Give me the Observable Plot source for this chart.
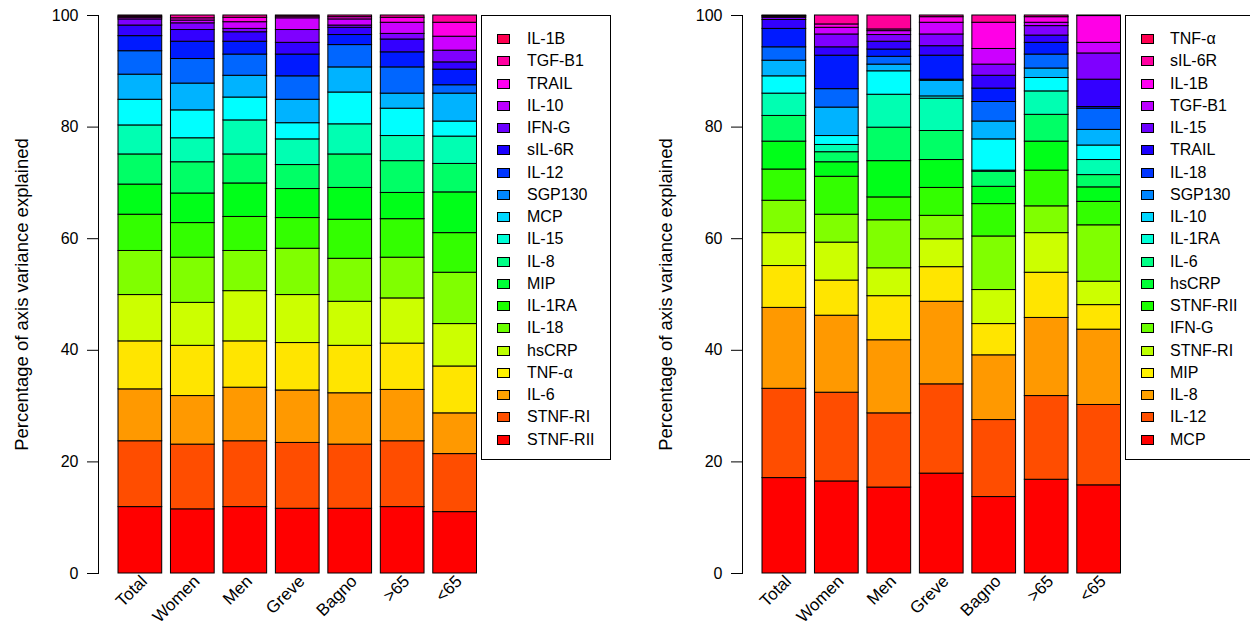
<!DOCTYPE html>
<html>
<head>
<meta charset="utf-8">
<script src="https://cdn.jsdelivr.net/npm/d3@7"></script>
<script src="https://cdn.jsdelivr.net/npm/@observablehq/plot@0.6"></script>
<style>
  html, body { margin: 0; padding: 0; background: #fff; }
  body { width: 1250px; height: 629px; overflow: hidden; position: relative; font-family: "Liberation Sans", Arial, sans-serif; }
  .panel { position: absolute; top: 0; }
  .legend { position: absolute; top: 15px; height: 445px; border: 1px solid #000; background: #fff; box-sizing: border-box; }
  .item { position: absolute; left: 0; height: 20px; font-size: 16px; line-height: 20px; color: #000; white-space: nowrap; }
  .sw { position: absolute; top: 5px; width: 13px; height: 10px; border: 1px solid #000; box-sizing: border-box; }
  .lab { position: absolute; top: 0; }
</style>
</head>
<body>
<div id="left" class="panel" style="left:0px;"></div>
<div id="right" class="panel" style="left:644px;"></div>
<div id="legL" class="legend" style="left:481px; width:130px;"></div>
<div id="legR" class="legend" style="left:1125px; width:140px;"></div>
<script>
// ---------- data ----------
const groups = ["Total", "Women", "Men", "Greve", "Bagno", ">65", "<65"];
const yTicks = [0, 20, 40, 60, 80, 100];
const yTitle = "Percentage of axis variance explained";

// left panel: stacking order bottom -> top
const leftCytokines = ["STNF-RII", "STNF-RI", "IL-6", "TNF-\u03b1", "hsCRP", "IL-18", "IL-1RA", "MIP", "IL-8", "IL-15", "MCP", "SGP130", "IL-12", "sIL-6R", "IFN-G", "IL-10", "TRAIL", "TGF-B1", "IL-1B"];
const leftTotal = [11.9, 11.8, 9.3, 8.6, 8.3, 7.9, 6.5, 5.4, 5.4, 5.2, 4.6, 4.5, 4.2, 2.7, 1.9, 1.1, 0.3, 0.2, 0.2];
const leftWomen = [11.5, 11.6, 8.7, 9.0, 7.7, 8.1, 6.2, 5.3, 5.6, 4.3, 5.0, 4.8, 4.4, 3.1, 2.1, 1.2, 0.5, 0.4, 0.5];
const leftMen   = [11.9, 11.8, 9.6, 8.3, 9.0, 7.2, 6.1, 6.0, 5.2, 6.1, 4.1, 3.9, 3.8, 2.3, 1.7, 0.6, 1.2, 0.8, 0.4];
const leftGreve = [11.6, 11.8, 9.4, 8.5, 8.6, 8.3, 5.5, 5.2, 4.3, 4.6, 2.9, 4.2, 4.2, 3.9, 2.1, 2.3, 2.1, 0.3, 0.2];
const leftBagno = [11.6, 11.5, 9.2, 8.5, 7.9, 7.7, 7.0, 5.7, 6.0, 5.4, 5.7, 4.5, 4.0, 1.8, 1.3, 0.4, 1.1, 0.4, 0.3];
const leftOver65  = [11.9, 11.8, 9.2, 8.3, 8.1, 7.3, 6.9, 4.7, 5.7, 4.5, 4.9, 2.7, 4.7, 2.7, 2.3, 1.0, 2.0, 0.9, 0.4];
const leftUnder65 = [11.0, 10.4, 7.3, 8.4, 7.6, 9.2, 7.1, 7.3, 5.1, 4.9, 2.7, 5.0, 1.5, 2.8, 1.3, 2.1, 2.5, 2.5, 1.3];

// right panel: stacking order bottom -> top
const rightCytokines = ["MCP", "IL-12", "IL-8", "MIP", "STNF-RI", "IFN-G", "STNF-RII", "hsCRP", "IL-6", "IL-1RA", "IL-10", "SGP130", "IL-18", "TRAIL", "IL-15", "TGF-B1", "IL-1B", "sIL-6R", "TNF-\u03b1"];
const rightTotal = [17.1, 16.0, 14.5, 7.5, 5.9, 5.8, 5.6, 5.0, 4.6, 4.0, 3.1, 2.8, 2.4, 3.3, 1.6, 0.4, 0.2, 0.1, 0.1];
const rightWomen = [16.5, 15.9, 13.8, 6.3, 6.8, 5.0, 6.8, 2.6, 1.8, 1.3, 1.6, 5.1, 3.3, 6.0, 1.5, 2.3, 1.2, 0.6, 1.6];
const rightMen   = [15.4, 13.3, 13.1, 7.9, 5.0, 8.6, 4.1, 6.5, 6.0, 5.9, 4.2, 1.2, 1.4, 1.3, 1.4, 1.2, 0.7, 0.3, 2.5];
const rightGreve = [17.9, 16.0, 14.8, 6.2, 5.0, 4.2, 5.0, 5.0, 5.2, 5.8, 0.4, 2.8, 0.2, 4.3, 1.7, 2.1, 2.1, 1.0, 0.3];
const rightBagno = [13.7, 13.8, 11.6, 5.6, 6.1, 9.6, 5.8, 3.1, 2.7, 0.2, 5.6, 3.2, 3.5, 2.4, 2.3, 2.0, 2.8, 4.7, 1.3];
const rightOver65  = [16.8, 15.0, 14.0, 8.1, 7.1, 4.8, 6.4, 5.2, 4.8, 4.2, 2.4, 1.7, 2.5, 2.1, 1.3, 1.7, 0.6, 1.0, 0.3];
const rightUnder65 = [15.8, 14.4, 13.5, 4.4, 4.2, 10.1, 4.2, 2.6, 2.2, 2.7, 2.6, 2.8, 3.8, 0.3, 4.9, 4.7, 1.9, 4.8, 0.1];

// palettes (bottom -> top)
const barColors = ["#FF0000", "#FF4D00", "#FF9900", "#FFE500", "#CCFF00", "#80FF00", "#33FF00", "#00FF19", "#00FF66", "#00FFB2", "#00FFFF", "#00B3FF", "#0066FF", "#001AFF", "#3300FF", "#7F00FF", "#CC00FF", "#FF00E6", "#FF0099"];
const legendColors = ["#FF0000", "#FF5000", "#FFA100", "#FFF200", "#BCFF00", "#6BFF00", "#1BFF00", "#00FF36", "#00FF86", "#00FFD7", "#00D7FF", "#0086FF", "#0036FF", "#1B00FF", "#6B00FF", "#BC00FF", "#FF00F2", "#FF00A1", "#FF0050"];

// ---------- build ----------
function table(cytokines, seriesByGroup) {
  const rows = [];
  groups.forEach((g, gi) => {
    cytokines.forEach((c, ci) => rows.push({group: g, cytokine: c, value: seriesByGroup[gi][ci]}));
  });
  return rows;
}

function panel(cytokines, seriesByGroup) {
  const rows = table(cytokines, seriesByGroup);
  return Plot.plot({
    width: 480,
    height: 629,
    marginTop: 15,
    marginBottom: 56,
    marginLeft: 98,
    marginRight: 4,
    style: {fontFamily: "'Liberation Sans', Arial, sans-serif", fontSize: "16px", color: "#000", background: "transparent", overflow: "visible"},
    x: {type: "band", domain: groups, range: [118, 476.5], paddingInner: 0.1667, paddingOuter: 0, round: false},
    y: {domain: [0, 100]},
    color: {domain: cytokines, range: barColors},
    marks: [
      Plot.barY(rows, {x: "group", y: "value", fill: "cytokine", order: null, stroke: "#000", strokeWidth: 1}),
      Plot.frame({anchor: "left", stroke: "#000"}),
      Plot.axisY({ticks: yTicks, tickSize: 11, tickPadding: 9, fontSize: 16, label: null}),
      Plot.axisY({ticks: [], tickSize: 0, fontSize: 18.5, label: yTitle, labelAnchor: "center", labelArrow: "none", labelOffset: 84}),
      Plot.axisX({tickSize: 0, tickPadding: 5, tickRotate: -45, fontSize: 17, label: null, dx: 4})
    ]
  });
}

document.getElementById("left").appendChild(panel(leftCytokines,
  [leftTotal, leftWomen, leftMen, leftGreve, leftBagno, leftOver65, leftUnder65]));
document.getElementById("right").appendChild(panel(rightCytokines,
  [rightTotal, rightWomen, rightMen, rightGreve, rightBagno, rightOver65, rightUnder65]));

function legend(id, cytokines, swLeft, labLeft) {
  const box = document.getElementById(id);
  const n = cytokines.length;
  for (let k = 0; k < n; k++) {
    const i = n - 1 - k; // top entry = top of stack
    const it = document.createElement("div");
    it.className = "item";
    it.style.top = (13 + 22.25 * k) + "px";
    const sw = document.createElement("div");
    sw.className = "sw";
    sw.style.left = swLeft + "px";
    sw.style.background = legendColors[i];
    const lab = document.createElement("div");
    lab.className = "lab";
    lab.style.left = labLeft + "px";
    lab.textContent = cytokines[i];
    it.appendChild(sw); it.appendChild(lab);
    box.appendChild(it);
  }
}
legend("legL", leftCytokines, 15, 45);
legend("legR", rightCytokines, 15, 44);
</script>
</body>
</html>
